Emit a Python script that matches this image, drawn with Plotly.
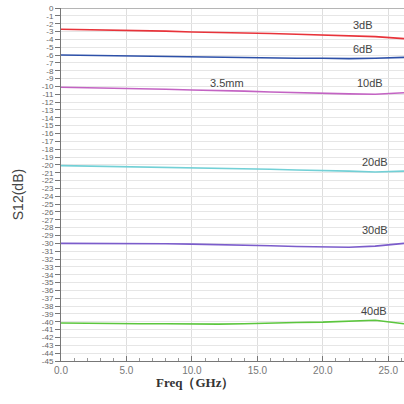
import plotly.graph_objects as go

freq = [0, 2, 4, 6, 8, 10, 12, 14, 16, 18, 20, 22, 24, 26.2]
s_3db = [-2.7, -2.75, -2.85, -2.9, -2.95, -3.05, -3.1, -3.15, -3.25, -3.35, -3.45, -3.5, -3.65, -3.9]
s_6db = [-6.0, -6.05, -6.1, -6.15, -6.2, -6.25, -6.3, -6.3, -6.35, -6.4, -6.4, -6.45, -6.4, -6.3]
s_10db = [-10.1, -10.15, -10.2, -10.3, -10.35, -10.45, -10.5, -10.6, -10.7, -10.8, -10.85, -10.95, -11.0, -10.8]
s_20db = [-20.1, -20.15, -20.2, -20.25, -20.3, -20.35, -20.4, -20.5, -20.55, -20.65, -20.7, -20.8, -20.9, -20.8]
s_30db = [-30.0, -30.0, -30.0, -30.0, -30.05, -30.1, -30.15, -30.2, -30.3, -30.4, -30.45, -30.5, -30.35, -30.0]
s_40db = [-40.15, -40.2, -40.2, -40.25, -40.25, -40.3, -40.3, -40.25, -40.15, -40.1, -40.05, -39.9, -39.8, -40.25]

series = [
    ("3dB", s_3db, "#e8333a"),
    ("6dB", s_6db, "#2d50a8"),
    ("10dB", s_10db, "#c363c3"),
    ("20dB", s_20db, "#72d0d6"),
    ("30dB", s_30db, "#7b5ccb"),
    ("40dB", s_40db, "#5cc63e"),
]

labels = ["3dB", "6dB", "10dB", "3.5mm", "20dB", "30dB", "40dB"]
label_x = [23.1, 23.1, 23.6, 12.7, 24.0, 24.0, 23.9]
label_y = [-2.2, -5.2, -9.6, -9.6, -19.6, -28.3, -38.6]

x_ticks = [0, 5, 10, 15, 20, 25]
x_ticklabels = ["0.0", "5.0", "10.0", "15.0", "20.0", "25.0"]
y_ticks = list(range(0, -46, -1))

fig = go.Figure()
for name, vals, col in series:
    fig.add_trace(go.Scatter(x=freq, y=vals, mode="lines", name=name,
                             line=dict(color=col, width=1.6), showlegend=False))

for t, x, y in zip(labels, label_x, label_y):
    fig.add_annotation(x=x, y=y, text=t, showarrow=False,
                       font=dict(family="Liberation Sans, Arial", size=11, color="#444"))

# top line at 0 dB
fig.add_shape(type="line", xref="paper", yref="y", x0=0, x1=1, y0=0, y1=0,
              line=dict(color="#b5b5b5", width=2))

fig.add_annotation(xref="paper", yref="paper", x=-0.125, y=0.47, text="S12(dB)",
                   textangle=-90, showarrow=False, xanchor="center", yanchor="middle",
                   font=dict(family="Liberation Sans, Arial", size=14, color="#444"))
fig.add_annotation(xref="paper", yref="paper", x=0.39, y=-0.062, text="<b>Freq（GHz）</b>",
                   showarrow=False, xanchor="center", yanchor="middle",
                   font=dict(family="Liberation Serif, DejaVu Serif, serif", size=13, color="#333"))

fig.update_layout(
    width=404, height=404,
    margin=dict(l=61, r=0, t=8, b=43),
    paper_bgcolor="white", plot_bgcolor="white",
    xaxis=dict(range=[0, 26.2], tickvals=x_ticks, ticktext=x_ticklabels,
               showgrid=True, gridcolor="#dedede", gridwidth=1,
               showline=True, linecolor="#777", linewidth=1,
               ticks="inside", ticklen=5, tickcolor="#777",
               minor=dict(dtick=1, ticks="inside", ticklen=3, tickcolor="#999", showgrid=False),
               tickfont=dict(family="Liberation Sans, Arial", size=10, color="#777"),
               zeroline=False),
    yaxis=dict(range=[-45, 0], tickvals=y_ticks, ticktext=[str(v) for v in y_ticks],
               showgrid=True, gridcolor="#e6e6e6", gridwidth=1,
               showline=True, linecolor="#777", linewidth=1,
               ticks="outside", ticklen=5, tickcolor="#777",
               tickfont=dict(family="Liberation Sans Narrow, Liberation Sans, Arial", size=8, color="#666"),
               zeroline=False),
)

fig.write_html("out.html", config={"displayModeBar": False},
               post_script="document.body.style.margin='0';")
